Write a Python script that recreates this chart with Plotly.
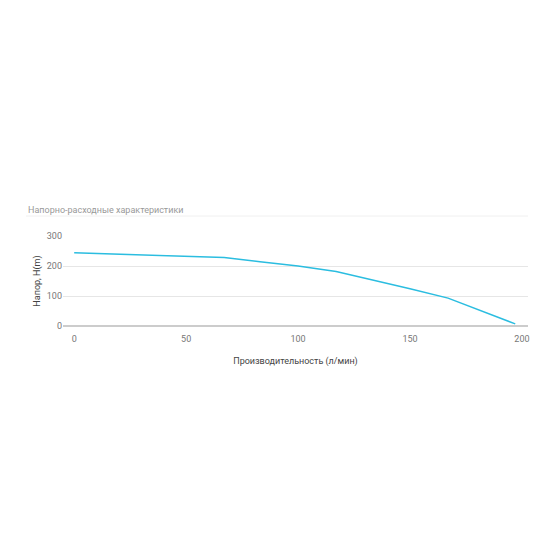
import plotly.graph_objects as go

flow = [0, 17, 33, 50, 67, 83, 100, 117, 133, 150, 167, 197]
head = [244, 240, 238, 233, 228, 214, 200, 182, 155, 124, 93, 7]

fig = go.Figure()
fig.add_trace(go.Scatter(x=flow, y=head, mode='lines',
                         line=dict(color='#2bbde0', width=1.5),
                         hoverinfo='x+y'))

fig.update_layout(
    width=550, height=550,
    margin=dict(l=55, r=30, t=228, b=232),
    paper_bgcolor='white', plot_bgcolor='white',
    showlegend=False,
    font=dict(family='Roboto', size=9, color='#666'),
)
fig.update_xaxes(range=[-5, 202.7], tickvals=[0, 50, 100, 150, 200], automargin=False,
                 showgrid=False, zeroline=False, showline=False, ticks='outside',
                 ticklen=4, tickcolor='rgba(0,0,0,0)',
                 title=dict(text='Производительность (л/мин)', font=dict(size=9, color='#444'), standoff=14),
                 tickfont=dict(color='#777'))
fig.update_yaxes(range=[0, 300], tickvals=[0, 100, 200, 300], automargin=False,
                 showgrid=True, gridcolor='#e6e6e6', zeroline=True, zerolinecolor='#ccc',
                 zerolinewidth=1.5, ticks='', ticksuffix='  ',
                 title=dict(text='Напор, H(m)', font=dict(size=9, color='#444'), standoff=4),
                 tickfont=dict(color='#777'))

fig.add_annotation(text='Напорно-расходные характеристики', xref='paper', yref='paper',
                   x=-37/465, y=1 + 26/90, xanchor='left', yanchor='middle',
                   showarrow=False, font=dict(size=9, color='#999'))
fig.add_shape(type='line', xref='paper', yref='paper', x0=-37/465, x1=1, y0=1 + 20/90, y1=1 + 20/90,
              line=dict(color='#f0f0f0', width=1))

fig.write_html("out.html")
